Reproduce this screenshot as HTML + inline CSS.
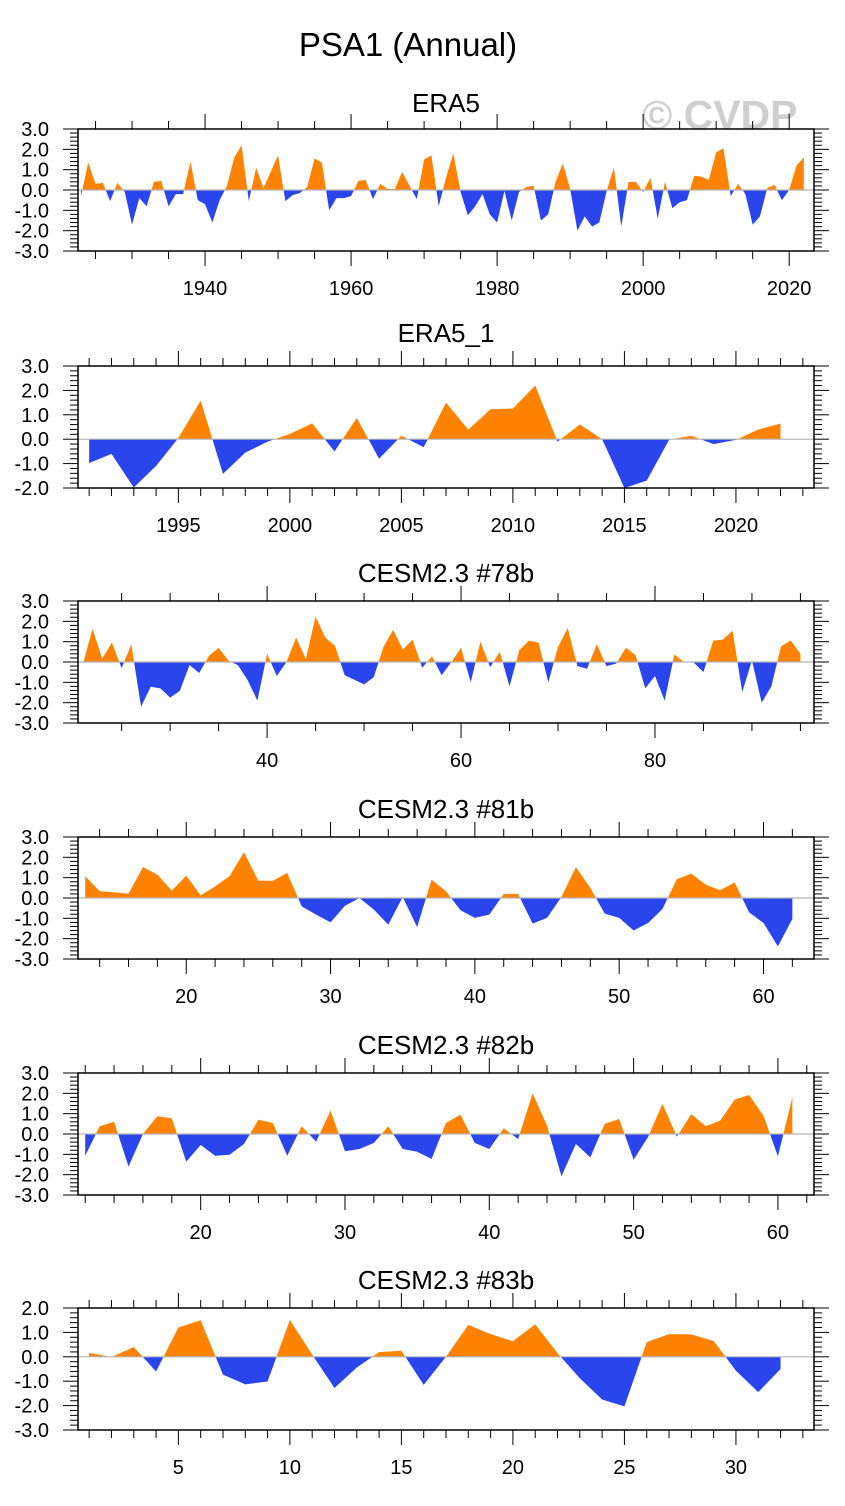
<!DOCTYPE html>
<html><head><meta charset="utf-8">
<style>
html,body{margin:0;padding:0;background:#fff;}
svg{display:block;font-family:"Liberation Sans",Arial,sans-serif;}
</style></head>
<body>
<svg id="chart" width="845" height="1506" viewBox="0 0 845 1506">
<text x="408" y="56" font-size="33" text-anchor="middle">PSA1 (Annual)</text>
<text x="642" y="129" font-size="41" font-weight="bold" fill="#cfcfcf">© CVDP</text>
</svg>
<script>
// Panel 1: ERA5 (1923-2022)
const era5Start = 1923;
const era5Values = [-0.3,1.35,0.3,0.35,-0.55,0.35,-0.1,-1.7,-0.4,-0.8,0.4,0.45,-0.8,-0.2,-0.2,1.4,-0.5,-0.7,-1.6,-0.5,0.2,1.6,2.2,-0.55,1.1,0.1,0.9,1.7,-0.55,-0.25,-0.15,0.15,1.55,1.35,-1.0,-0.4,-0.4,-0.3,0.45,0.5,-0.45,0.3,0.05,0.05,0.9,0.2,-0.45,1.5,1.7,-0.8,0.6,1.8,-0.1,-1.25,-0.8,-0.2,-1.2,-1.6,-0.05,-1.5,-0.1,0.15,0.2,-1.5,-1.2,0.4,1.3,0.05,-2.0,-1.3,-1.8,-1.6,-0.05,1.1,-1.8,0.4,0.4,-0.1,0.6,-1.4,0.4,-0.9,-0.6,-0.5,0.7,0.65,0.5,1.85,2.05,-0.3,0.3,-0.2,-1.7,-1.3,0.1,0.25,-0.5,0.0,1.2,1.6];
const era5XTicks = [1940,1960,1980,2000,2020];
// Panel 2: ERA5_1 (1991-2022)
const era51Start = 1991;
const era51Values = [-0.98,-0.6,-1.98,-1.1,0.05,1.58,-1.42,-0.55,-0.1,0.22,0.65,-0.5,0.87,-0.8,0.14,-0.33,1.5,0.39,1.23,1.26,2.2,-0.1,0.6,0.0,-2.0,-1.7,-0.03,0.14,-0.2,-0.03,0.4,0.64];
const era51XTicks = [1995,2000,2005,2010,2015,2020];
// Panel 3: CESM2.3 #78b (21-95)
const c78Start = 21;
const c78Values = [-0.1,1.63,0.16,0.95,-0.3,0.87,-2.2,-1.22,-1.3,-1.75,-1.42,-0.15,-0.54,0.3,0.69,0.08,-0.16,-0.9,-1.9,0.4,-0.69,0.0,1.2,0.15,2.24,1.2,0.8,-0.65,-0.87,-1.1,-0.75,0.74,1.58,0.6,1.1,-0.28,0.28,-0.65,0.0,0.7,-1.0,1.0,-0.25,0.5,-1.2,0.57,1.05,0.95,-1.0,0.74,1.67,-0.2,-0.33,0.87,-0.2,-0.08,0.7,0.33,-1.3,-0.69,-1.9,0.36,0.0,-0.03,-0.5,1.05,1.1,1.54,-1.48,0.08,-2.0,-1.2,0.77,1.06,0.4];
const c78XTicks = [40,60,80];
// Panel 4: CESM2.3 #81b (13-62)
const c81Start = 13;
const c81Values = [1.07,0.33,0.28,0.21,1.52,1.15,0.36,1.1,0.13,0.57,1.07,2.25,0.85,0.85,1.23,-0.41,-0.82,-1.2,-0.38,0.0,-0.57,-1.31,0.05,-1.43,0.9,0.33,-0.6,-0.98,-0.82,0.2,0.2,-1.26,-0.98,0.05,1.52,0.5,-0.77,-0.98,-1.6,-1.23,-0.54,0.93,1.2,0.66,0.38,0.77,-0.7,-1.23,-2.38,-1.03];
const c81XTicks = [20,30,40,50,60];
// Panel 5: CESM2.3 #82b (12-61)
const c82Start = 12;
const c82Values = [-1.07,0.38,0.6,-1.6,0.0,0.87,0.77,-1.36,-0.54,-1.07,-1.02,-0.49,0.7,0.54,-1.07,0.38,-0.38,1.15,-0.85,-0.74,-0.44,0.38,-0.74,-0.87,-1.23,0.54,0.95,-0.44,-0.74,0.28,-0.25,2.0,0.41,-2.08,-0.49,-1.15,0.5,0.74,-1.26,-0.15,1.48,-0.13,0.98,0.38,0.66,1.69,1.92,0.9,-1.1,1.8];
const c82XTicks = [20,30,40,50,60];
// Panel 6: CESM2.3 #83b (1-32)
const c83Start = 1;
const c83Values = [0.16,-0.01,0.4,-0.6,1.2,1.5,-0.73,-1.13,-1.01,1.51,0.09,-1.28,-0.44,0.19,0.25,-1.15,0.0,1.31,0.93,0.64,1.33,0.15,-0.88,-1.75,-2.03,0.6,0.93,0.92,0.65,-0.57,-1.45,-0.5];
const c83XTicks = [5,10,15,20,25,30];

const NS = 'http://www.w3.org/2000/svg';
const svg = document.getElementById('chart');
function mk(tag, attrs, parent){
  const e = document.createElementNS(NS, tag);
  for (const k in attrs) e.setAttribute(k, attrs[k]);
  (parent||svg).appendChild(e);
  return e;
}
const BL = 78, BR = 814, BH = 122;

function panel(idx, key, title, top, titleGap, start, values, xmin, xmax, xticks, xminor, ymin, ymax){
  const g = mk('g', {});
  
  
  const bottom = top + BH;
  const xs = v => BL + (v - xmin) / (xmax - xmin) * (BR - BL);
  const ys = v => bottom - (v - ymin) / (ymax - ymin) * BH;
  const t = mk('text', {x: 446, y: top - titleGap, 'font-size': 26, 'text-anchor': 'middle'}, g);
  t.textContent = title;
  
  
  const cid = 'c' + idx;
  const defs = mk('defs', {}, g);
  const y0 = ys(0);
  const cp = mk('clipPath', {id: cid + 'p'}, defs);
  mk('rect', {x: BL, y: top, width: BR - BL, height: y0 - top}, cp);
  const cn = mk('clipPath', {id: cid + 'n'}, defs);
  mk('rect', {x: BL, y: y0, width: BR - BL, height: bottom - y0}, cn);
  let d = 'M' + xs(start).toFixed(2) + ',' + y0.toFixed(2);
  values.forEach((v, i) => { d += ' L' + xs(start + i).toFixed(2) + ',' + ys(v).toFixed(2); });
  d += ' L' + xs(start + values.length - 1).toFixed(2) + ',' + y0.toFixed(2) + ' Z';
  const pa = mk('path', {d: d, fill: '#ff8200', 'clip-path': 'url(#' + cid + 'p)'}, g);
  
  
  const na = mk('path', {d: d, fill: '#2a45ec', 'clip-path': 'url(#' + cid + 'n)'}, g);
  
  
  const zl = mk('line', {x1: BL, x2: BR, y1: y0, y2: y0, stroke: '#b4b4b4', 'stroke-width': 1.2}, g);
  
  
  const box = mk('rect', {x: BL, y: top, width: BR - BL, height: BH, fill: 'none', stroke: '#000', 'stroke-width': 1.5}, g);
  
  
  const yt = mk('g', {stroke: '#000', 'stroke-width': 1}, g);
  
  
  for (let k = Math.round(ymin * 5); k <= Math.round(ymax * 5); k++) {
    const v = k / 5, y = ys(v), major = (k % 5 === 0);
    const L = major ? 15 : 8;
    mk('line', {x1: BL - L, x2: BL, y1: y, y2: y}, yt);
    mk('line', {x1: BR, x2: BR + L, y1: y, y2: y}, yt);
    if (major) {
      const lb = mk('text', {x: 49, y: y + 7, 'font-size': 20, 'text-anchor': 'end', stroke: 'none'}, yt);
      lb.textContent = v.toFixed(1);
      
      
    }
  }
  const xt = mk('g', {stroke: '#000', 'stroke-width': 1}, g);
  
  
  for (let v = Math.ceil(xmin / xminor) * xminor; v <= xmax; v += xminor) {
    const x = xs(v), major = xticks.includes(v), L = major ? 15 : 8;
    mk('line', {x1: x, x2: x, y1: top - L, y2: top}, xt);
    mk('line', {x1: x, x2: x, y1: bottom, y2: bottom + L}, xt);
  }
  xticks.forEach(v => {
    const lb = mk('text', {x: xs(v), y: bottom + 44, 'font-size': 20, 'text-anchor': 'middle', stroke: 'none'}, xt);
    lb.textContent = String(v);
    
    
  });
}
panel(1, 'era5', 'ERA5', 129, 17, era5Start, era5Values, 1922.6, 2023.4, era5XTicks, 5, -3, 3);
panel(2, 'era5-1', 'ERA5_1', 366, 24, era51Start, era51Values, 1990.5, 2023.5, era51XTicks, 1, -2, 3);
panel(3, 'cesm-78b', 'CESM2.3 #78b', 601, 19, c78Start, c78Values, 20.5, 96.4, c78XTicks, 5, -3, 3);
panel(4, 'cesm-81b', 'CESM2.3 #81b', 837, 19, c81Start, c81Values, 12.5, 63.5, c81XTicks, 2, -3, 3);
panel(5, 'cesm-82b', 'CESM2.3 #82b', 1073, 19, c82Start, c82Values, 11.5, 62.5, c82XTicks, 2, -3, 3);
panel(6, 'cesm-83b', 'CESM2.3 #83b', 1308, 19, c83Start, c83Values, 0.5, 33.5, c83XTicks, 1, -3, 2);
</script>
</body></html>
